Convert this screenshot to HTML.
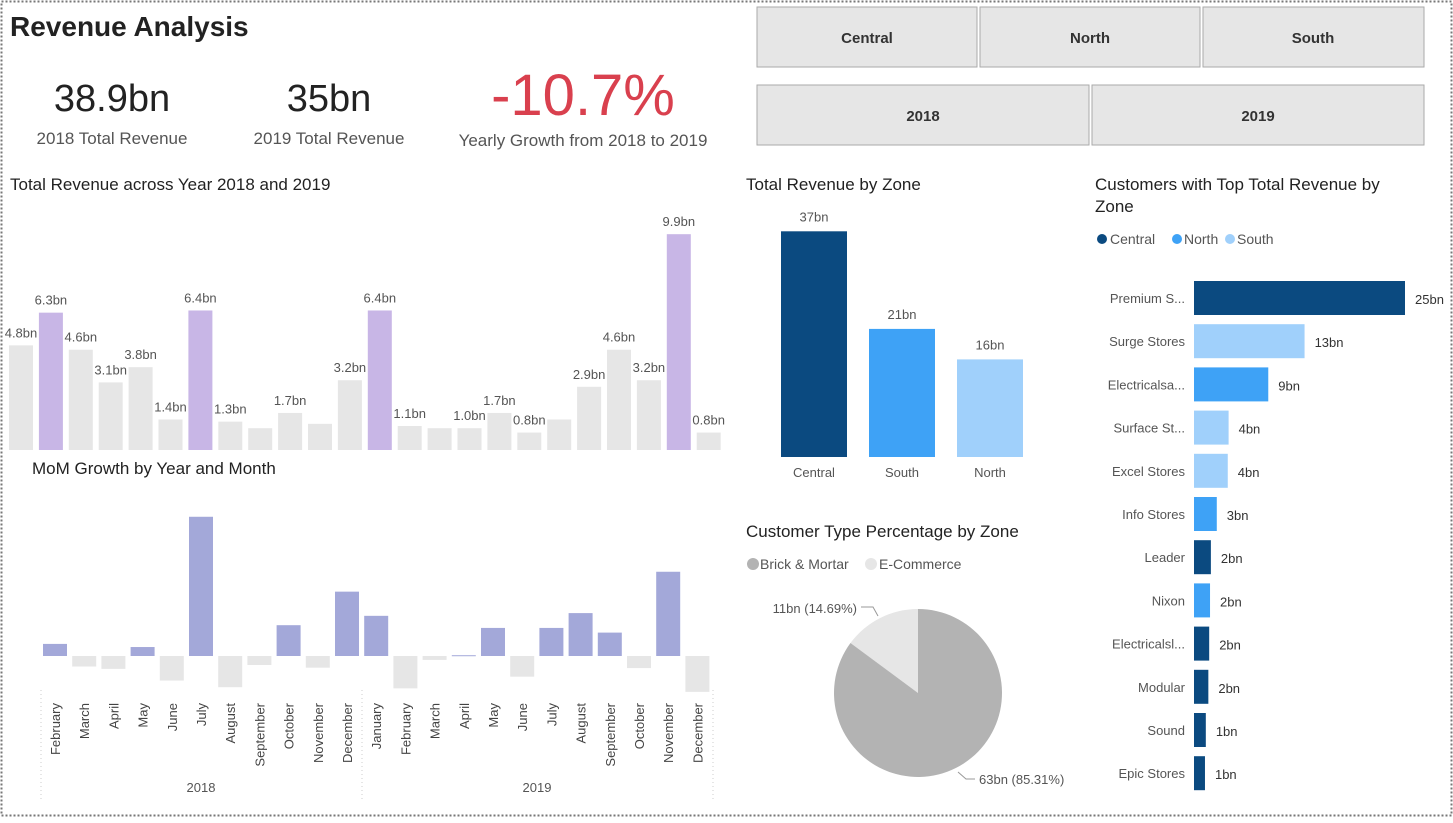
<!DOCTYPE html>
<html><head><meta charset="utf-8"><style>
html,body{margin:0;padding:0;background:#fff;}
body{width:1453px;height:818px;overflow:hidden;font-family:"Liberation Sans",sans-serif;}
svg text{font-family:"Liberation Sans",sans-serif;}
</style></head><body>
<svg id="s" width="1453" height="818" viewBox="0 0 1453 818" xmlns="http://www.w3.org/2000/svg">
<rect x="1.5" y="1.5" width="1450" height="814" fill="#fff" stroke="#777" stroke-width="2" stroke-dasharray="2,2"/>
<text x="10" y="36" font-size="28" font-weight="bold" fill="#222">Revenue Analysis</text>
<g>
<text x="112" y="111" font-size="38" fill="#222" text-anchor="middle">38.9bn</text>
<text x="112" y="144" font-size="17" fill="#555" text-anchor="middle">2018 Total Revenue</text></g>
<g>
<text x="329" y="111" font-size="38" fill="#222" text-anchor="middle">35bn</text>
<text x="329" y="144" font-size="17" fill="#555" text-anchor="middle">2019 Total Revenue</text></g>
<g>
<text x="583" y="115" font-size="58" fill="#d9404e" text-anchor="middle">-10.7%</text>
<text x="583" y="146" font-size="17" fill="#555" text-anchor="middle">Yearly Growth from 2018 to 2019</text></g>
<g font-size="15" font-weight="bold" fill="#333" text-anchor="middle">
<rect x="757" y="7" width="220" height="60" fill="#e6e6e6" stroke="#aaa"/><text x="867" y="43">Central</text>
<rect x="980" y="7" width="220" height="60" fill="#e6e6e6" stroke="#aaa"/><text x="1090" y="43">North</text>
<rect x="1203" y="7" width="221" height="60" fill="#e6e6e6" stroke="#aaa"/><text x="1313" y="43">South</text>
<rect x="757" y="85" width="332" height="60" fill="#e6e6e6" stroke="#aaa"/><text x="923" y="121">2018</text>
<rect x="1092" y="85" width="332" height="60" fill="#e6e6e6" stroke="#aaa"/><text x="1258" y="121">2019</text>
</g>
<g font-size="17" fill="#222">
<text x="10" y="190">Total Revenue across Year 2018 and 2019</text>
<text x="32" y="474">MoM Growth by Year and Month</text>
<text x="746" y="190">Total Revenue by Zone</text>
<text x="1095" y="190">Customers with Top Total Revenue by</text>
<text x="1095" y="212">Zone</text>
<text x="746" y="537">Customer Type Percentage by Zone</text>
</g>
<g font-size="14" fill="#555">
<circle cx="1102" cy="239" r="5" fill="#0b4a80"/><text x="1110" y="244">Central</text>
<circle cx="1177" cy="239" r="5" fill="#3ea2f6"/><text x="1184" y="244">North</text>
<circle cx="1230" cy="239" r="5" fill="#a0d0fb"/><text x="1237" y="244">South</text>
<circle cx="753" cy="564" r="6" fill="#b3b3b3"/><text x="760" y="569">Brick &amp; Mortar</text>
<circle cx="871" cy="564" r="6" fill="#e6e6e6"/><text x="879" y="569">E-Commerce</text>
</g>
<g id="g1"></g><g id="g2"></g><g id="g3"></g><g id="g4"></g><g id="g5"></g>
</svg>
<script>
const revMonths = ["Jan","Feb","Mar","Apr","May","Jun","Jul","Aug","Sep","Oct","Nov","Dec","Jan","Feb","Mar","Apr","May","Jun","Jul","Aug","Sep","Oct","Nov","Dec"];
const revValues = [4.8,6.3,4.6,3.1,3.8,1.4,6.4,1.3,1.0,1.7,1.2,3.2,6.4,1.1,1.0,1.0,1.7,0.8,1.4,2.9,4.6,3.2,9.9,0.8];
const revLabels = ["4.8bn","6.3bn","4.6bn","3.1bn","3.8bn","1.4bn","6.4bn","1.3bn","","1.7bn","","3.2bn","6.4bn","1.1bn","","1.0bn","1.7bn","0.8bn","","2.9bn","4.6bn","3.2bn","9.9bn","0.8bn"];
const revHighlight = [0,1,0,0,0,0,1,0,0,0,0,0,1,0,0,0,0,0,0,0,0,0,1,0];
const momMonths = ["February","March","April","May","June","July","August","September","October","November","December","January","February","March","April","May","June","July","August","September","October","November","December"];
const momValues = [31,-27,-33,23,-63,357,-80,-23,79,-30,165,103,-83,-10,2,72,-53,72,110,60,-31,216,-92];
const zoneNames = ["Central","South","North"];
const zoneValues = [37,21,16];
const custNames = ["Premium S...","Surge Stores","Electricalsa...","Surface St...","Excel Stores","Info Stores","Leader","Nixon","Electricalsl...","Modular","Sound","Epic Stores"];
const custValues = [25,13.1,8.8,4.1,4.0,2.7,2.0,1.9,1.8,1.7,1.4,1.3];
const custZone = ["Central","South","North","South","South","North","Central","North","Central","Central","Central","Central"];
const pieNames = ["E-Commerce","Brick & Mortar"];
const pieValues = [11,63];
const piePct = [14.69,85.31];

const NS="http://www.w3.org/2000/svg";
function mk(p,t,a,txt){const e=document.createElementNS(NS,t);for(const k in a)e.setAttribute(k,a[k]);if(txt!==undefined)e.textContent=txt;p.appendChild(e);return e;}
const zc={Central:"#0b4a80",North:"#3ea2f6",South:"#a0d0fb"};
const zoneCol={Central:"#0b4a80",South:"#3ea2f6",North:"#a0d0fb"};

// revenue chart
const g1=document.getElementById('g1');
const rx=i=>9+i*29.9, ry=v=>450-v*21.8;
revValues.forEach((v,i)=>{
 const r=mk(g1,'rect',{x:rx(i),y:ry(v),width:24,height:450-ry(v),fill:revHighlight[i]?"#c8b6e6":"#e6e6e6"});
 
 
 if(revLabels[i]){const t=mk(g1,'text',{x:rx(i)+12,y:ry(v)-8,'font-size':13,fill:'#555','text-anchor':'middle'},revLabels[i]);
 
 }
});

// MoM chart
const g2=document.getElementById('g2');
const mx=i=>43+i*29.2, my=v=>656-v*0.39;
momValues.forEach((v,i)=>{
 const y0=Math.min(my(v),656), h=Math.abs(my(v)-656);
 const r=mk(g2,'rect',{x:mx(i),y:y0,width:24,height:Math.max(h,1),fill:v>=0?"#a3a8d9":"#e6e6e6"});
 
 
 const cx=mx(i)+12;
 const t=mk(g2,'text',{x:0,y:0,'font-size':13,fill:'#444','text-anchor':'end',transform:`translate(${cx+5},703) rotate(-90)`},momMonths[i]);
 
 
});
[41,362,713].forEach(x=>{mk(g2,'line',{x1:x,y1:690,x2:x,y2:800,stroke:'#ccc','stroke-dasharray':'1,3'});});
const y18=mk(g2,'text',{x:201,y:792,'font-size':13,fill:'#555','text-anchor':'middle'},'2018');


const y19=mk(g2,'text',{x:537,y:792,'font-size':13,fill:'#555','text-anchor':'middle'},'2019');



// zone chart
const g3=document.getElementById('g3');
const zx=i=>781+i*88, zy=v=>457-v*6.1;
zoneNames.forEach((n,i)=>{
 const r=mk(g3,'rect',{x:zx(i),y:zy(zoneValues[i]),width:66,height:457-zy(zoneValues[i]),fill:zoneCol[n]});
 
 
 const t=mk(g3,'text',{x:zx(i)+33,y:zy(zoneValues[i])-10,'font-size':13,fill:'#555','text-anchor':'middle'},zoneValues[i]+'bn');
 
 
 const c=mk(g3,'text',{x:zx(i)+33,y:477,'font-size':13,fill:'#555','text-anchor':'middle'},n);
 
 
});

// customers chart
const g4=document.getElementById('g4');
const cy=i=>298+i*43.2, cw=v=>v*8.44;
custNames.forEach((n,i)=>{
 const r=mk(g4,'rect',{x:1194,y:cy(i)-17,width:cw(custValues[i]),height:34,fill:zc[custZone[i]]});
 
 
 const l=mk(g4,'text',{x:1185,y:cy(i)+5,'font-size':13,fill:'#555','text-anchor':'end'},n);
 
 
 const v=mk(g4,'text',{x:1194+cw(custValues[i])+10,y:cy(i)+6,'font-size':13,fill:'#333'},Math.round(custValues[i])+'bn');
 
 
});

// pie
const g5=document.getElementById('g5');
const pcx=918,pcy=693,R=84;
const tot=pieValues.reduce((a,b)=>a+b,0);
const pt=a=>[pcx+R*Math.sin(a),pcy-R*Math.cos(a)];
let a0=-2*Math.PI*pieValues[0]/tot;
const pieCols=["#e6e6e6","#b3b3b3"];
pieValues.forEach((v,i)=>{
 const a1=a0+2*Math.PI*v/tot;
 const p0=pt(a0),p1=pt(a1);
 const large=(a1-a0)>Math.PI?1:0;
 const p=mk(g5,'path',{d:`M${pcx},${pcy}L${p0[0]},${p0[1]}A${R},${R} 0 ${large} 1 ${p1[0]},${p1[1]}Z`,fill:pieCols[i]});
 
 
 a0=a1;
});
mk(g5,'polyline',{points:'861,607 873,607 878,616',fill:'none',stroke:'#999'});
mk(g5,'polyline',{points:'958,772 966,779 975,779',fill:'none',stroke:'#999'});
const pl1=mk(g5,'text',{x:857,y:613,'font-size':13,fill:'#555','text-anchor':'end'},pieValues[0]+'bn ('+piePct[0]+'%)');


const pl2=mk(g5,'text',{x:979,y:784,'font-size':13,fill:'#555'},pieValues[1]+'bn ('+piePct[1]+'%)');


</script>
</body></html>
